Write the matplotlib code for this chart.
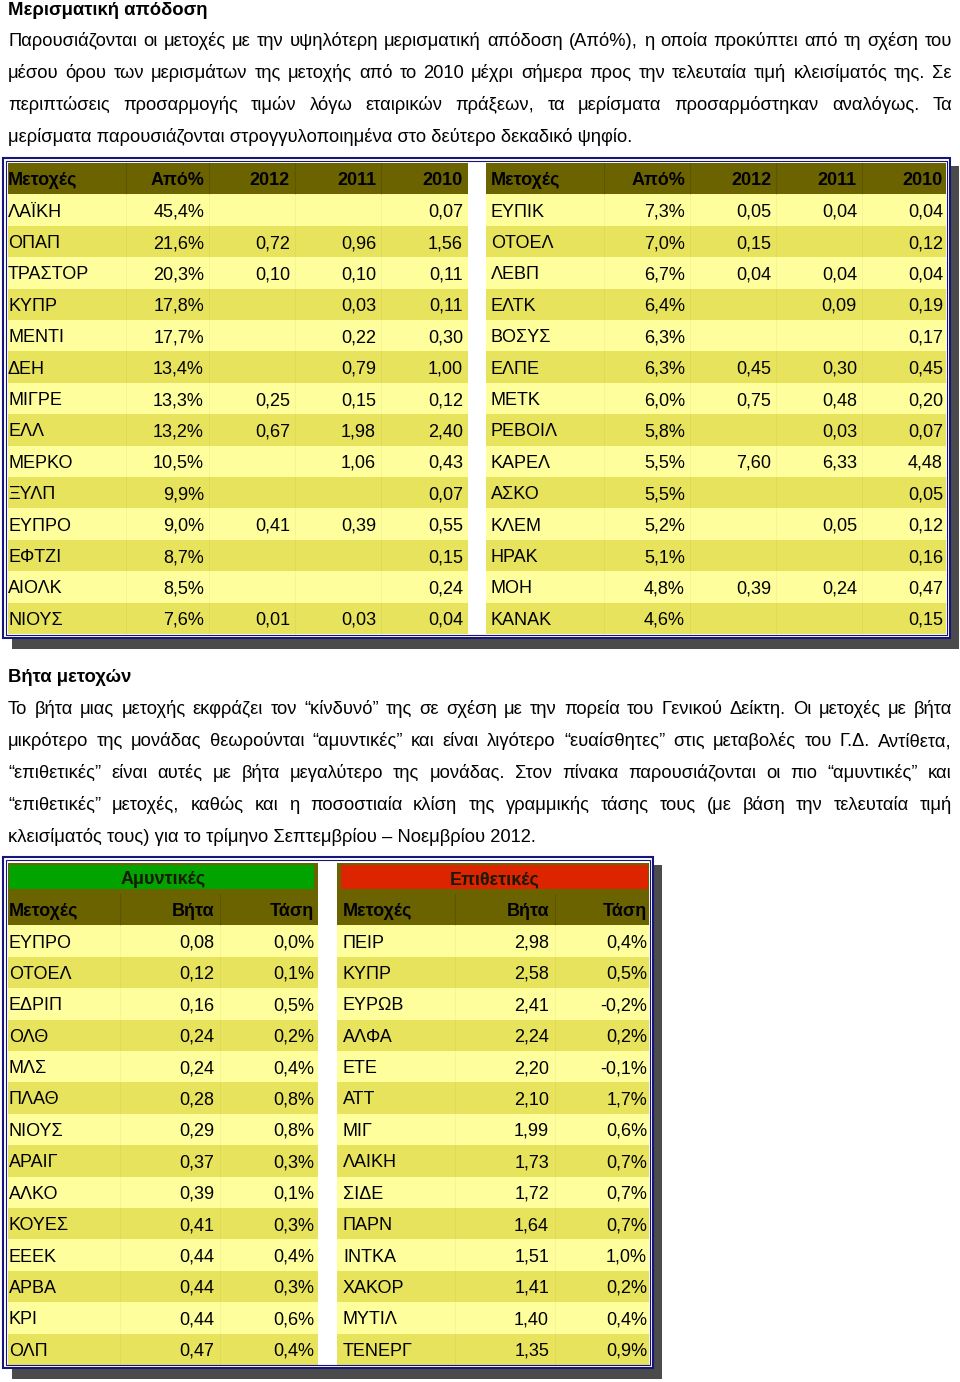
import matplotlib.pyplot as plt
from matplotlib.patches import Rectangle

plt.rcParams['font.family'] = ['Liberation Sans', 'DejaVu Sans']

# ---- text ----
title_div = 'Μερισματική απόδοση'
text_div = [
    'Παρουσιάζονται οι μετοχές με την υψηλότερη μερισματική απόδοση (Από%), η οποία προκύπτει από τη σχέση του',
    'μέσου όρου των μερισμάτων της μετοχής από το 2010 μέχρι σήμερα προς την τελευταία τιμή κλεισίματός της. Σε',
    'περιπτώσεις προσαρμογής τιμών λόγω εταιρικών πράξεων, τα μερίσματα προσαρμόστηκαν αναλόγως. Τα',
    'μερίσματα παρουσιάζονται στρογγυλοποιημένα στο δεύτερο δεκαδικό ψηφίο.',
]
title_beta = 'Βήτα μετοχών'
text_beta = [
    'Το βήτα μιας μετοχής εκφράζει τον “κίνδυνό” της σε σχέση με την πορεία του Γενικού Δείκτη. Οι μετοχές με βήτα',
    'μικρότερο της μονάδας θεωρούνται “αμυντικές” και είναι λιγότερο “ευαίσθητες” στις μεταβολές του Γ.Δ. Αντίθετα,',
    '“επιθετικές” είναι αυτές με βήτα μεγαλύτερο της μονάδας. Στον πίνακα παρουσιάζονται οι πιο “αμυντικές” και',
    '“επιθετικές” μετοχές, καθώς και η ποσοστιαία κλίση της γραμμικής τάσης τους (με βάση την τελευταία τιμή',
    'κλεισίματός τους) για το τρίμηνο Σεπτεμβρίου – Νοεμβρίου 2012.',
]

# ---- dividend yield data ----
div_header = ['Μετοχές', 'Από%', '2012', '2011', '2010']

divA_stocks = ['ΛΑΪΚΗ', 'ΟΠΑΠ', 'ΤΡΑΣΤΟΡ', 'ΚΥΠΡ', 'ΜΕΝΤΙ', 'ΔΕΗ', 'ΜΙΓΡΕ', 'ΕΛΛ',
               'ΜΕΡΚΟ', 'ΞΥΛΠ', 'ΕΥΠΡΟ', 'ΕΦΤΖΙ', 'ΑΙΟΛΚ', 'ΝΙΟΥΣ']
divA_yield = [45.4, 21.6, 20.3, 17.8, 17.7, 13.4, 13.3, 13.2, 10.5, 9.9, 9.0, 8.7, 8.5, 7.6]
divA_2012 = [None, 0.72, 0.10, None, None, None, 0.25, 0.67, None, None, 0.41, None, None, 0.01]
divA_2011 = [None, 0.96, 0.10, 0.03, 0.22, 0.79, 0.15, 1.98, 1.06, None, 0.39, None, None, 0.03]
divA_2010 = [0.07, 1.56, 0.11, 0.11, 0.30, 1.00, 0.12, 2.40, 0.43, 0.07, 0.55, 0.15, 0.24, 0.04]

divB_stocks = ['ΕΥΠΙΚ', 'ΟΤΟΕΛ', 'ΛΕΒΠ', 'ΕΛΤΚ', 'ΒΟΣΥΣ', 'ΕΛΠΕ', 'ΜΕΤΚ', 'ΡΕΒΟΙΛ',
               'ΚΑΡΕΛ', 'ΑΣΚΟ', 'ΚΛΕΜ', 'ΗΡΑΚ', 'ΜΟΗ', 'ΚΑΝΑΚ']
divB_yield = [7.3, 7.0, 6.7, 6.4, 6.3, 6.3, 6.0, 5.8, 5.5, 5.5, 5.2, 5.1, 4.8, 4.6]
divB_2012 = [0.05, 0.15, 0.04, None, None, 0.45, 0.75, None, 7.60, None, None, None, 0.39, None]
divB_2011 = [0.04, None, 0.04, 0.09, None, 0.30, 0.48, 0.03, 6.33, None, 0.05, None, 0.24, None]
divB_2010 = [0.04, 0.12, 0.04, 0.19, 0.17, 0.45, 0.20, 0.07, 4.48, 0.05, 0.12, 0.16, 0.47, 0.15]

# ---- beta data ----
beta_header = ['Μετοχές', 'Βήτα', 'Τάση']

def_title = 'Αμυντικές'
def_stocks = ['ΕΥΠΡΟ', 'ΟΤΟΕΛ', 'ΕΔΡΙΠ', 'ΟΛΘ', 'ΜΛΣ', 'ΠΛΑΘ', 'ΝΙΟΥΣ', 'ΑΡΑΙΓ',
              'ΑΛΚΟ', 'ΚΟΥΕΣ', 'ΕΕΕΚ', 'ΑΡΒΑ', 'ΚΡΙ', 'ΟΛΠ']
def_beta = [0.08, 0.12, 0.16, 0.24, 0.24, 0.28, 0.29, 0.37, 0.39, 0.41, 0.44, 0.44, 0.44, 0.47]
def_trend = [0.0, 0.1, 0.5, 0.2, 0.4, 0.8, 0.8, 0.3, 0.1, 0.3, 0.4, 0.3, 0.6, 0.4]

agg_title = 'Επιθετικές'
agg_stocks = ['ΠΕΙΡ', 'ΚΥΠΡ', 'ΕΥΡΩΒ', 'ΑΛΦΑ', 'ΕΤΕ', 'ΑΤΤ', 'ΜΙΓ', 'ΛΑΙΚΗ',
              'ΣΙΔΕ', 'ΠΑΡΝ', 'ΙΝΤΚΑ', 'ΧΑΚΟΡ', 'ΜΥΤΙΛ', 'ΤΕΝΕΡΓ']
agg_beta = [2.98, 2.58, 2.41, 2.24, 2.20, 2.10, 1.99, 1.73, 1.72, 1.64, 1.51, 1.41, 1.40, 1.35]
agg_trend = [0.4, 0.5, -0.2, 0.2, -0.1, 1.7, 0.6, 0.7, 0.7, 0.7, 1.0, 0.2, 0.4, 0.9]

# colours
OLIVE = '#6b6300'
LIGHT = '#fefe9c'
DARK = '#e8e35c'
NAVY = '#15157c'
SHADOW = '#4b4b4b'
GREEN = '#00a300'
RED = '#dd2400'
TABLE_FS = 13


def num(v):
    return '' if v is None else f'{v:.2f}'.replace('.', ',')


def pct(v):
    return f'{v:.1f}%'.replace('.', ',')


fig = plt.figure(figsize=(9.6, 13.82), dpi=100)
ax = fig.add_axes([0, 0, 1, 1])
ax.set_xlim(0, 960)
ax.set_ylim(1382, 0)
ax.axis('off')
renderer = fig.canvas.get_renderer()


def width_of(s, size, weight='normal'):
    t = ax.text(0, 0, s, fontsize=size, fontweight=weight)
    w = t.get_window_extent(renderer).width
    t.remove()
    return w


def fit_size(s, target, weight='normal'):
    return 10 * target / width_of(s, 10, weight)


def paragraph(lines, x0, x1, y0, step, size):
    # justified lines, last one left aligned
    for i, line in enumerate(lines):
        y = y0 + i * step
        if i == len(lines) - 1:
            ax.text(x0, y, line, fontsize=size, va='baseline')
            continue
        words = line.split(' ')
        widths = [width_of(w, size) for w in words]
        gap = (x1 - x0 - sum(widths)) / (len(words) - 1)
        x = x0
        for w, wd in zip(words, widths):
            ax.text(x, y, w, fontsize=size, va='baseline')
            x += wd + gap


def box(x0, y0, x1, y1, color, z=1):
    ax.add_patch(Rectangle((x0, y0), x1 - x0, y1 - y0, facecolor=color,
                           edgecolor='none', zorder=z))


def frame(x0, y0, x1, y1):
    # drop shadow and double navy border
    box(x0 + 10, y0 + 9, x1 + 8, y1 + 10, SHADOW, z=0)
    box(x0, y0, x1, y1, 'white', z=0.5)
    ax.add_patch(Rectangle((x0 + 1, y0 + 1), x1 - x0 - 2, y1 - y0 - 2, fill=False,
                           edgecolor=NAVY, lw=1.5, zorder=5))
    ax.add_patch(Rectangle((x0 + 4, y0 + 4), x1 - x0 - 8, y1 - y0 - 8, fill=False,
                           edgecolor=NAVY, lw=0.8, zorder=5))


def table(x0, x1, y0, row_h, header, columns, text_x, dividers):
    n = len(columns[0])
    # header
    box(x0, y0, x1, y0 + row_h, OLIVE)
    for j, h in enumerate(header):
        ha = 'left' if j == 0 else 'right'
        ax.text(text_x[j], y0 + row_h / 2 + 6.5, h, fontsize=TABLE_FS, fontweight='bold',
                ha=ha, va='baseline', zorder=3)
    for i in range(n):
        top = y0 + (i + 1) * row_h
        box(x0, top, x1, top + row_h, LIGHT if i % 2 == 0 else DARK)
        for j, col in enumerate(columns):
            ha = 'left' if j == 0 else 'right'
            ax.text(text_x[j], top + row_h / 2 + 6.5, col[i], fontsize=TABLE_FS,
                    ha=ha, va='baseline', zorder=3)
    for d in dividers:
        # faint cell edges, a bit stronger in the header
        ax.plot([d, d], [y0, y0 + row_h], color='black', alpha=0.12, lw=0.8, zorder=2)
        ax.plot([d, d], [y0 + row_h, y0 + (n + 1) * row_h], color='black', alpha=0.035,
                lw=0.8, zorder=2)


# ---- section 1 ----
head_fs = fit_size(title_div, 199, 'bold')
body_fs = fit_size(text_div[-1], 627)
ax.text(8, 15, title_div, fontsize=head_fs, fontweight='bold', va='baseline')
paragraph(text_div, 8, 952, 46, 32, body_fs)

row_h = 31.4
frame(2, 157, 951, 639)
table(8, 468, 163, row_h, div_header,
      [divA_stocks, [pct(v) for v in divA_yield], [num(v) for v in divA_2012],
       [num(v) for v in divA_2011], [num(v) for v in divA_2010]],
      [8, 204, 290, 376, 463], [126, 209, 295, 381])
table(486, 946, 163, row_h, div_header,
      [divB_stocks, [pct(v) for v in divB_yield], [num(v) for v in divB_2012],
       [num(v) for v in divB_2011], [num(v) for v in divB_2010]],
      [491, 685, 771, 857, 943], [604, 690, 776, 862])

# ---- section 2 ----
ax.text(8, 682, title_beta, fontsize=head_fs, fontweight='bold', va='baseline')
paragraph(text_beta, 8, 952, 714, 32, body_fs)

frame(2, 856, 654, 1369)
y_title = 862.5
# title bands
box(8, y_title, 318, y_title + row_h, OLIVE)
box(9, 865, 314, 889, GREEN, z=1.5)
ax.text(163, y_title + row_h / 2 + 6, def_title, fontsize=TABLE_FS, fontweight='bold',
        color='#1a1a00', ha='center', va='baseline', zorder=3)
box(337, y_title, 649, y_title + row_h, OLIVE)
box(341, 865, 648, 889, RED, z=1.5)
ax.text(494.5, y_title + row_h / 2 + 6, agg_title, fontsize=TABLE_FS, fontweight='bold',
        color='#1a1a00', ha='center', va='baseline', zorder=3)

table(8, 318, y_title + row_h, row_h, beta_header,
      [def_stocks, [num(v) for v in def_beta], [pct(v) for v in def_trend]],
      [9, 214, 314], [120, 220])
table(337, 649, y_title + row_h, row_h, beta_header,
      [agg_stocks, [num(v) for v in agg_beta], [pct(v) for v in agg_trend]],
      [343, 549, 647], [455, 555])

fig.savefig('out.png', dpi=100)
